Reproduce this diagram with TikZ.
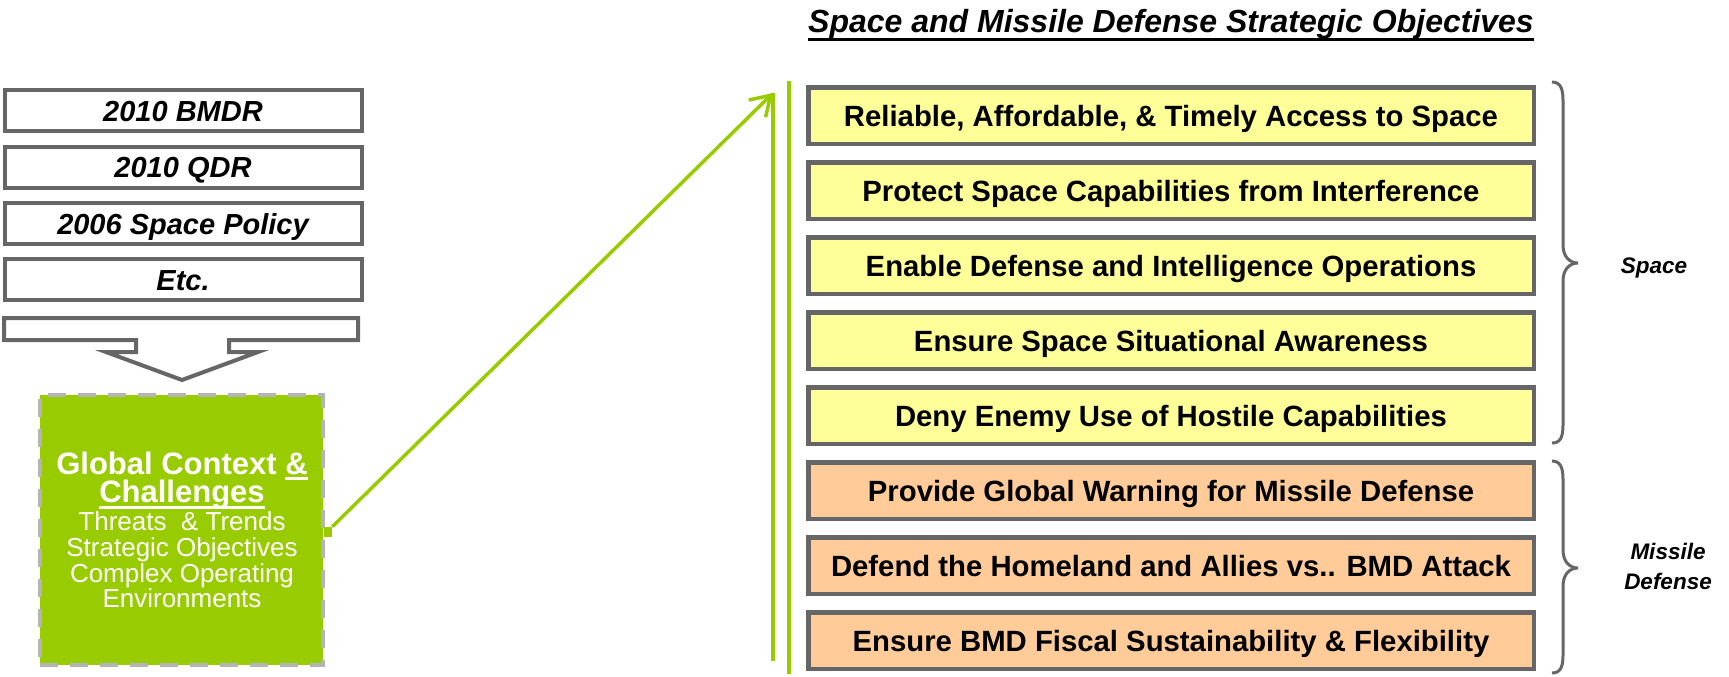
\documentclass[tikz,border=0pt]{standalone}
\usepackage{fontspec}
\setmainfont{Liberation Sans}
\usetikzlibrary{arrows.meta}
\definecolor{lgreen}{HTML}{99CC00}
\definecolor{bgray}{HTML}{666666}
\definecolor{dgray}{HTML}{B4B4B4}
\definecolor{ylw}{HTML}{FFFF99}
\definecolor{org}{HTML}{FFCC99}
\newcommand{\myul}[3]{{\setbox0=\hbox{#3}\rlap{\vrule height -#1 depth #2 width \wd0}\box0}}
\tikzset{
  srcbox/.style={draw=bgray, line width=4pt, fill=white, minimum width=357pt, minimum height=41pt,
    inner sep=0pt, text height=21pt, text depth=0pt, font=\fontsize{29}{31}\selectfont\bfseries\itshape},
  objbox/.style={draw=bgray, line width=4.5pt, minimum width=725.5pt, minimum height=56.5pt,
    inner sep=0pt, text height=21pt, text depth=0pt, font=\fontsize{29.3}{31}\selectfont\bfseries},
  ctxbox/.style={draw=dgray, dash pattern=on 18pt off 12pt, line width=4pt, fill=lgreen,
    minimum width=283pt, minimum height=270pt, inner sep=0pt},
  gbold/.style={anchor=base, inner sep=0pt, text=white, font=\fontsize{31}{31}\selectfont\bfseries},
  greg/.style={anchor=base, inner sep=0pt, text=white, font=\fontsize{26}{26}\selectfont},
  gline/.style={lgreen, line width=3.5pt},
  brace/.style={draw=bgray, line width=3pt},
  lbl/.style={inner sep=0pt, text height=16pt, text depth=0pt, font=\fontsize{22.5}{24}\selectfont\bfseries\itshape},
}
\begin{document}
\begin{tikzpicture}[x=1pt,y=-1pt]
\useasboundingbox (0,0) rectangle (1729,677);
% title
\node[anchor=base, inner sep=0pt, font=\fontsize{32}{34}\selectfont\bfseries\itshape] (title) at (1171,33)
  {\myul{5.5pt}{8.5pt}{Space and Missile Defense Strategic Objectives}};
% source documents
\node[srcbox] (b1) at (183,110.5) {2010 BMDR};
\node[srcbox] (b2) at (183,167) {2010 QDR};
\node[srcbox] (b3) at (183,223.5) {2006 Space Policy};
\node[srcbox] (b4) at (183,279.5) {Etc.};
% down arrow
\draw[bgray, line width=4pt, fill=white, line join=miter]
  (4,318) -- (358,318) -- (358,340) -- (229,340) -- (229,352) -- (258,352) -- (182,380)
  -- (106,352) -- (136,352) -- (136,340) -- (4,340) -- cycle;
% global context box
\node[ctxbox] (ctx) at (181.5,530) {};
\node[gbold] (g1) at (182,474) {Global Context \myul{3pt}{5.5pt}{\&}};
\node[gbold] (g2) at (182,502) {\myul{4pt}{6.5pt}{Challenges}};
\node[greg] (g3) at (182,530) {Threats\ \ \& Trends};
\node[greg] (g4) at (182,556) {Strategic Objectives};
\node[greg] (g5) at (182,582) {Complex Operating};
\node[greg] (g6) at (182,607) {Environments};
% connector
\node[fill=lgreen, minimum width=8pt, minimum height=10pt, inner sep=0pt] (pin) at (328,532) {};
\coordinate (tip) at (773,93);
\coordinate (l1b) at (773,661);
\coordinate (l2t) at (789,81);
\coordinate (l2b) at (789,674);
\draw[gline, -{Straight Barb[length=19pt,width=24pt,line width=3.5pt]}] (pin.north east) -- (tip);
\draw[gline] (tip) -- (l1b);
\draw[gline] (l2t) -- (l2b);
% objectives
\node[objbox, fill=ylw] (o1) at (1171,115.5) {Reliable, Affordable, \& Timely Access to Space};
\node[objbox, fill=ylw] (o2) at (1171,190.5) {Protect Space Capabilities from Interference};
\node[objbox, fill=ylw] (o3) at (1171,265.5) {Enable Defense and Intelligence Operations};
\node[objbox, fill=ylw] (o4) at (1171,340.5) {Ensure Space Situational Awareness};
\node[objbox, fill=ylw] (o5) at (1171,415.5) {Deny Enemy Use of Hostile Capabilities};
\node[objbox, fill=org] (o6) at (1171,490.5) {Provide Global Warning for Missile Defense};
\node[objbox, fill=org] (o7) at (1171,565.5) {Defend the Homeland and Allies vs.. BMD Attack};
\node[objbox, fill=org] (o8) at (1171,640.5) {Ensure BMD Fiscal Sustainability \& Flexibility};
% braces
\draw[brace] (1552,82) .. controls (1561,82) and (1563,90) .. (1563,100) -- (1563,245)
  .. controls (1563,257) and (1570,263) .. (1578,263)
  .. controls (1570,263) and (1563,269) .. (1563,281) -- (1563,425)
  .. controls (1563,436) and (1561,443) .. (1552,443);
\draw[brace] (1552,461) .. controls (1561,461) and (1563,469) .. (1563,479) -- (1563,550)
  .. controls (1563,562) and (1570,568) .. (1578,568)
  .. controls (1570,568) and (1563,574) .. (1563,586) -- (1563,655)
  .. controls (1563,666) and (1561,673) .. (1552,673);
\node[lbl] (sp) at (1654,265) {Space};
\node[lbl] (ms) at (1668,551) {Missile};
\node[lbl] (df) at (1668,581) {Defense};
\end{tikzpicture}
\end{document}
